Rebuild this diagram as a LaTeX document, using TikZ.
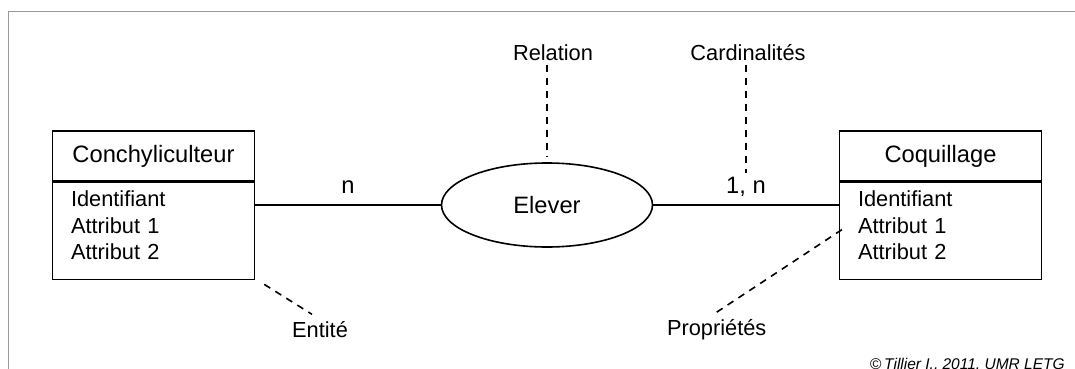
\documentclass[tikz,border=0pt]{standalone}
\usepackage{fontspec}
\setmainfont{Liberation Sans}
\usetikzlibrary{positioning,shapes.geometric}

\begin{document}
\begin{tikzpicture}[x=1pt,y=-1pt,
  title/.style={draw,line width=1.6pt,minimum width=202pt,minimum height=50pt,
    font=\fontsize{23.7}{28}\selectfont},
  attr/.style={draw,line width=1.6pt,minimum width=202pt,minimum height=97pt,
    text width=165pt,align=left,text depth=65pt,
    font=\fontsize{21.8}{26.5}\selectfont},
  rel/.style={ellipse,draw,line width=1.6pt,minimum width=211pt,minimum height=84pt,
    font=\fontsize{23.7}{28}\selectfont},
  note/.style={font=\fontsize{21.8}{26}\selectfont},
  card/.style={above=8pt,inner sep=3pt,text depth=0pt,
    font=\fontsize{23.7}{28}\selectfont},
  link/.style={line width=1.6pt},
  hint/.style={line width=1.6pt,dash pattern=on 7pt off 6pt}]

\useasboundingbox (0,0) rectangle (1075,369);

% frame
\draw[gray!80,line width=1.6pt] (8.5,11.5) rectangle (1120,420);

% entities
\node[title] (conch) at (153.5,156) {Conchyliculteur};
\node[attr,below=0pt of conch] (conchattr) {Identifiant\\Attribut 1\\Attribut 2};
\node[title] (coq) at (940.5,156) {Coquillage};
\node[attr,below=0pt of coq] (coqattr) {Identifiant\\Attribut 1\\Attribut 2};

% relation
\node[rel] (elever) at (547,205) {Elever};

% links
\draw[link] (conchattr.east |- elever.west) -- (elever.west) node[card,midway] (cardn) {n};
\draw[link] (elever.east) -- (elever.east -| coqattr.west) node[card,midway] (card1n) {1, n};

% annotations
\node[note] (relation) at (553,53) {Relation};
\node[note] (cardinal) at (748,53) {Cardinalités};
\node[note] (entite) at (320,330) {Entité};
\node[note] (proprietes) at (716.7,330) {Propriétés};

\draw[hint] (relation.south -| elever.north) -- ([yshift=5pt]elever.north);
\draw[hint] (cardinal.south -| card1n.north) -- (card1n.north);
\draw[hint] ([xshift=9pt,yshift=-4pt]conchattr.south east) -- ([xshift=-8pt,yshift=4pt]entite.north);
\draw[hint] ([yshift=4pt]proprietes.north) -- ([xshift=4pt,yshift=2pt]coqattr.west);

% copyright
\node[anchor=base west,inner sep=0pt,font=\fontsize{15.5}{18}\selectfont] (copyr) at (870,369)
  {©\,\textit{Tillier I., 2011, UMR LETG}};

\end{tikzpicture}
\end{document}
